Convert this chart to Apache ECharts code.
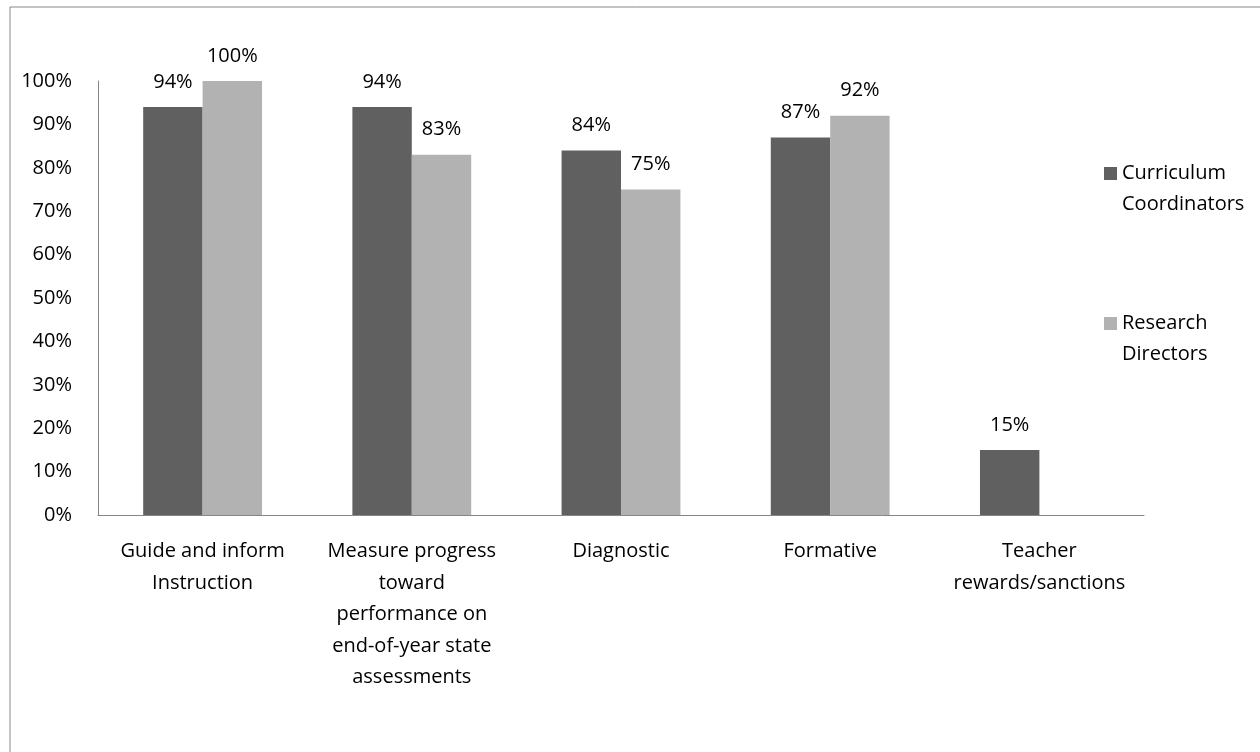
<!DOCTYPE html>
<html>
<head>
<meta charset="utf-8">
<script src="https://cdn.jsdelivr.net/npm/echarts@6/dist/echarts.min.js"></script>
<style>html,body{margin:0;padding:0;background:#fff;}#c{width:1260px;height:752px;}</style>
</head>
<body>
<div id="c"></div>
<script>
const categories = ['Guide and inform\nInstruction', 'Measure progress\ntoward\nperformance on\nend-of-year state\nassessments', 'Diagnostic', 'Formative', 'Teacher\nrewards/sanctions'];
const seriesNames = ['Curriculum\nCoordinators', 'Research\nDirectors'];
const curriculumCoordinators = [94, 94, 84, 87, 15];
const researchDirectors = [100, 83, 75, 92, null];
const yTicks = [0, 10, 20, 30, 40, 50, 60, 70, 80, 90, 100];

const FONT = 'Open Sans';
const chart = echarts.init(document.getElementById('c'));
const labelCfg = {show: true, position: 'top', distance: 15, fontFamily: FONT, fontSize: 20, color: '#000', formatter: p => p.value == null ? '' : p.value + '%'};
chart.setOption({
  animation: false,
  textStyle: {fontFamily: FONT},
  graphic: [{type: 'rect', shape: {x: 10, y: 7, width: 1300, height: 800}, style: {fill: 'none', stroke: '#888', lineWidth: 1}, silent: true, z: -1}],
  grid: {left: 98, right: 116, top: 81, bottom: 237, containLabel: false},
  legend: {
    orient: 'vertical', left: 1099, top: 122, itemWidth: 13, itemHeight: 13, itemGap: 57,
    icon: 'rect',
    formatter: name => ' \n' + name,
    textStyle: {fontFamily: FONT, fontSize: 20, color: '#000', lineHeight: 31},
    data: seriesNames
  },
  xAxis: {
    type: 'category', data: categories,
    axisLine: {lineStyle: {color: '#868686', width: 1}},
    axisTick: {show: false},
    axisLabel: {interval: 0, margin: 21, fontFamily: FONT, fontSize: 20, color: '#000', lineHeight: 31.5, align: 'center'}
  },
  yAxis: {
    type: 'value', min: yTicks[0], max: yTicks[yTicks.length - 1], interval: 10,
    axisLine: {show: true, lineStyle: {color: '#868686', width: 1}},
    axisTick: {show: false},
    splitLine: {show: false},
    axisLabel: {margin: 26, fontFamily: FONT, fontSize: 20, color: '#000', formatter: '{value}%'}
  },
  series: [
    {name: seriesNames[0], type: 'bar', data: curriculumCoordinators, barWidth: '28.4%', barGap: '0%', itemStyle: {color: '#606060'}, label: labelCfg},
    {name: seriesNames[1], type: 'bar', data: researchDirectors, barWidth: '28.4%', barGap: '0%', itemStyle: {color: '#b2b2b2'}, label: labelCfg}
  ]
});
</script>
</body>
</html>
